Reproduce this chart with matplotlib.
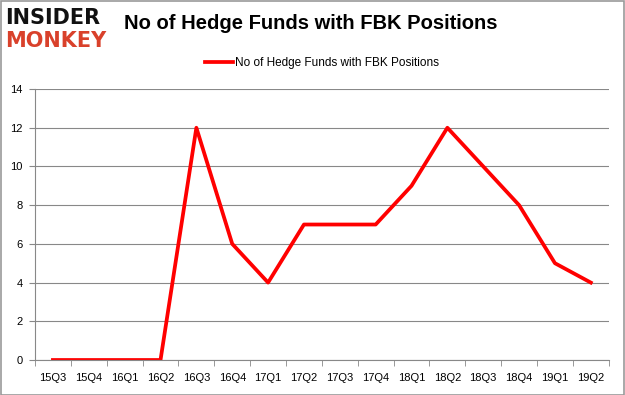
import matplotlib
matplotlib.use("Agg")
import matplotlib.pyplot as plt
from matplotlib.patches import Rectangle

quarters = ["15Q3", "15Q4", "16Q1", "16Q2", "16Q3", "16Q4", "17Q1", "17Q2",
            "17Q3", "17Q4", "18Q1", "18Q2", "18Q3", "18Q4", "19Q1", "19Q2"]
funds = [0, 0, 0, 0, 12, 6, 4, 7, 7, 7, 9, 12, 10, 8, 5, 4]
y_ticks = [0, 2, 4, 6, 8, 10, 12, 14]

plt.rcParams['font.family'] = ['Liberation Sans', 'DejaVu Sans']

fig = plt.figure(figsize=(6.25, 3.95), dpi=100)
ax = fig.add_axes([0.056, 0.0886, 0.918, 0.686])

x = list(range(len(quarters)))
ax.plot(x, funds, color="#ff0000", linewidth=2.7, label="No of Hedge Funds with FBK Positions")

ax.set_xlim(-0.5, len(quarters) - 0.5)
ax.set_ylim(0, 14)
ax.set_yticks(y_ticks)
ax.set_xticks(x)
ax.set_xticklabels(quarters, fontsize=8)
ax.set_xticks([i - 0.5 for i in range(len(quarters) + 1)], minor=True)
ax.tick_params(axis="x", which="major", length=0, pad=9)
ax.tick_params(axis="x", which="minor", length=4, color="#888888")
ax.tick_params(axis="y", length=4, color="#888888", labelsize=8, pad=5)
ax.grid(axis="y", color="#888888", linewidth=0.8)
ax.set_axisbelow(True)
for side in ["top", "right"]:
    ax.spines[side].set_visible(False)
for side in ["left", "bottom"]:
    ax.spines[side].set_color("#888888")

ax.legend(loc="lower center", bbox_to_anchor=(0.5, 1.035), frameon=False,
          fontsize=8.5, handlelength=2.4, handletextpad=0.1)

fig.text(0.498, 0.94, "No of Hedge Funds with FBK Positions", ha="center", va="center",
         fontsize=14.5, fontweight="bold")

# logo
fig.text(0.008, 0.955, "INSIDER", ha="left", va="center", fontsize=15,
         fontweight="bold", color="#111111", family="DejaVu Sans")
fig.text(0.008, 0.895, "MONKEY", ha="left", va="center", fontsize=15,
         fontweight="bold", color="#d9412b", family="DejaVu Sans")

fig.patches.append(Rectangle((0.001, 0.001), 0.997, 0.997, transform=fig.transFigure,
                             fill=False, edgecolor="#999999", linewidth=1.2))

fig.savefig("out.png", dpi=100)
